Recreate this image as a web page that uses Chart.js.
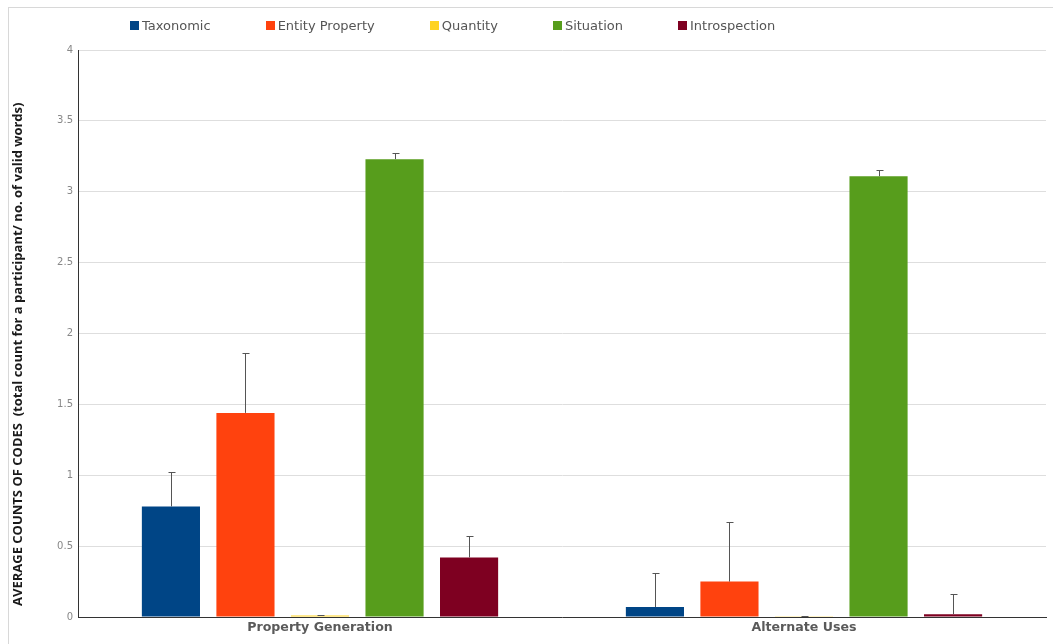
<!DOCTYPE html>
<html>
<head>
<meta charset="utf-8">
<script src="https://cdn.jsdelivr.net/npm/chart.js@4.4.1/dist/chart.umd.min.js"></script>
<style>
  body { margin: 0; background: #fff; }
  #wrap { position: relative; width: 1053px; height: 644px; }
  #frame { position: absolute; left: 8px; top: 7px; width: 1100px; height: 700px;
           border-left: 1px solid #d8d8d8; border-top: 1px solid #d8d8d8; }
  #legend { position: absolute; left: 130px; top: 18px; display: flex; gap: 55px;
            font: 13px "DejaVu Sans", sans-serif; color: #555; }
  #legend .item { display: flex; align-items: center; }
  #legend .box { width: 9px; height: 9px; margin-right: 3px; }
  canvas { position: absolute; left: 0; top: 0; }
</style>
</head>
<body>
<div id="wrap">
  <div id="frame"></div>
  <canvas id="myChart" width="1053" height="644"></canvas>
  <div id="legend"></div>
</div>
<script>
const ctx = document.getElementById('myChart');

const tasks = ['Property Generation', 'Alternate Uses'];
const codes = ['Taxonomic', 'Entity Property', 'Quantity', 'Situation', 'Introspection'];
const colors = ['#004586', '#ff420e', '#ffd320', '#579d1c', '#7e0021'];

// mean count per task, one array per code
const taxonomic = [0.78, 0.07];
const entityProperty = [1.44, 0.25];
const quantity = [0.01, 0.005];
const situation = [3.23, 3.11];
const introspection = [0.42, 0.02];

// upper error (added on top of the mean)
const taxonomicErr = [0.24, 0.24];
const entityPropertyErr = [0.42, 0.42];
const quantityErr = [0.003, 0.002];
const situationErr = [0.04, 0.04];
const introspectionErr = [0.15, 0.14];

const means = [taxonomic, entityProperty, quantity, situation, introspection];
const errors = [taxonomicErr, entityPropertyErr, quantityErr, situationErr, introspectionErr];

const yTitle = 'AVERAGE COUNTS OF CODES  (total count for a participant/ no. of valid words)';

// draws the upper half of an error bar on each bar
const errorBars = {
    id: 'errorBars',
    afterDatasetsDraw(chart) {
        const c = chart.ctx;
        const y = chart.scales.y;
        c.save();
        c.strokeStyle = '#555';
        c.lineWidth = 1;
        chart.data.datasets.forEach((ds, i) => {
            chart.getDatasetMeta(i).data.forEach((bar, j) => {
                const top = y.getPixelForValue(ds.data[j] + ds.errors[j]);
                const x = Math.round(bar.x) + 0.5;
                c.beginPath();
                c.moveTo(x, bar.y);
                c.lineTo(x, top);
                c.moveTo(x - 3, Math.round(top) + 0.5);
                c.lineTo(x + 4, Math.round(top) + 0.5);
                c.stroke();
            });
        });
        c.restore();
    }
};

// rotated y axis title, a little below the middle of the axis
const axisTitle = {
    id: 'axisTitle',
    afterDraw(chart) {
        const c = chart.ctx;
        const area = chart.chartArea;
        c.save();
        c.translate(18, area.bottom - 11);
        c.rotate(-Math.PI / 2);
        c.font = 'bold 13px "Open Sans"';
        c.fillStyle = '#1a1a1a';
        c.textAlign = 'left';
        c.textBaseline = 'middle';
        c.fillText(yTitle, 0, 0);
        c.restore();
    }
};

const chartDemo = new Chart(ctx, {
    type: 'bar',
    data: {
        labels: tasks,
        datasets: codes.map((name, i) => ({
            label: name,
            data: means[i],
            errors: errors[i],
            backgroundColor: colors[i],
            borderWidth: 0,
            categoryPercentage: 0.77,
            barPercentage: 0.78
        }))
    },
    plugins: [errorBars, axisTitle],
    options: {
        responsive: false,
        animation: false,
        layout: { padding: { top: 50, right: 7, bottom: 0, left: 0 } },
        plugins: {
            legend: { display: false },
            tooltip: { enabled: false }
        },
        scales: {
            x: {
                grid: { display: false, drawTicks: false },
                border: { color: '#333', width: 1 },
                ticks: {
                    color: '#5a5a5a',
                    padding: 3,
                    font: { family: 'DejaVu Sans', size: 12.6, weight: 'bold' }
                },
                afterFit: (scale) => { scale.height = 27; }
            },
            y: {
                min: 0,
                max: 4,
                grid: { color: '#dedede', drawTicks: false },
                border: { color: '#333', width: 1 },
                ticks: {
                    stepSize: 0.5,
                    color: '#888',
                    padding: 5,
                    font: { family: 'DejaVu Sans', size: 10 },
                    callback: (v) => String(v)
                },
                afterFit: (scale) => { scale.width = 78; }
            }
        }
    }
});

// legend row above the plot
const legend = document.getElementById('legend');
codes.forEach((name, i) => {
    const item = document.createElement('div');
    item.className = 'item';
    item.innerHTML = '<span class="box" style="background:' + colors[i] + '"></span>' + name;
    legend.appendChild(item);
});
</script>
</body>
</html>
